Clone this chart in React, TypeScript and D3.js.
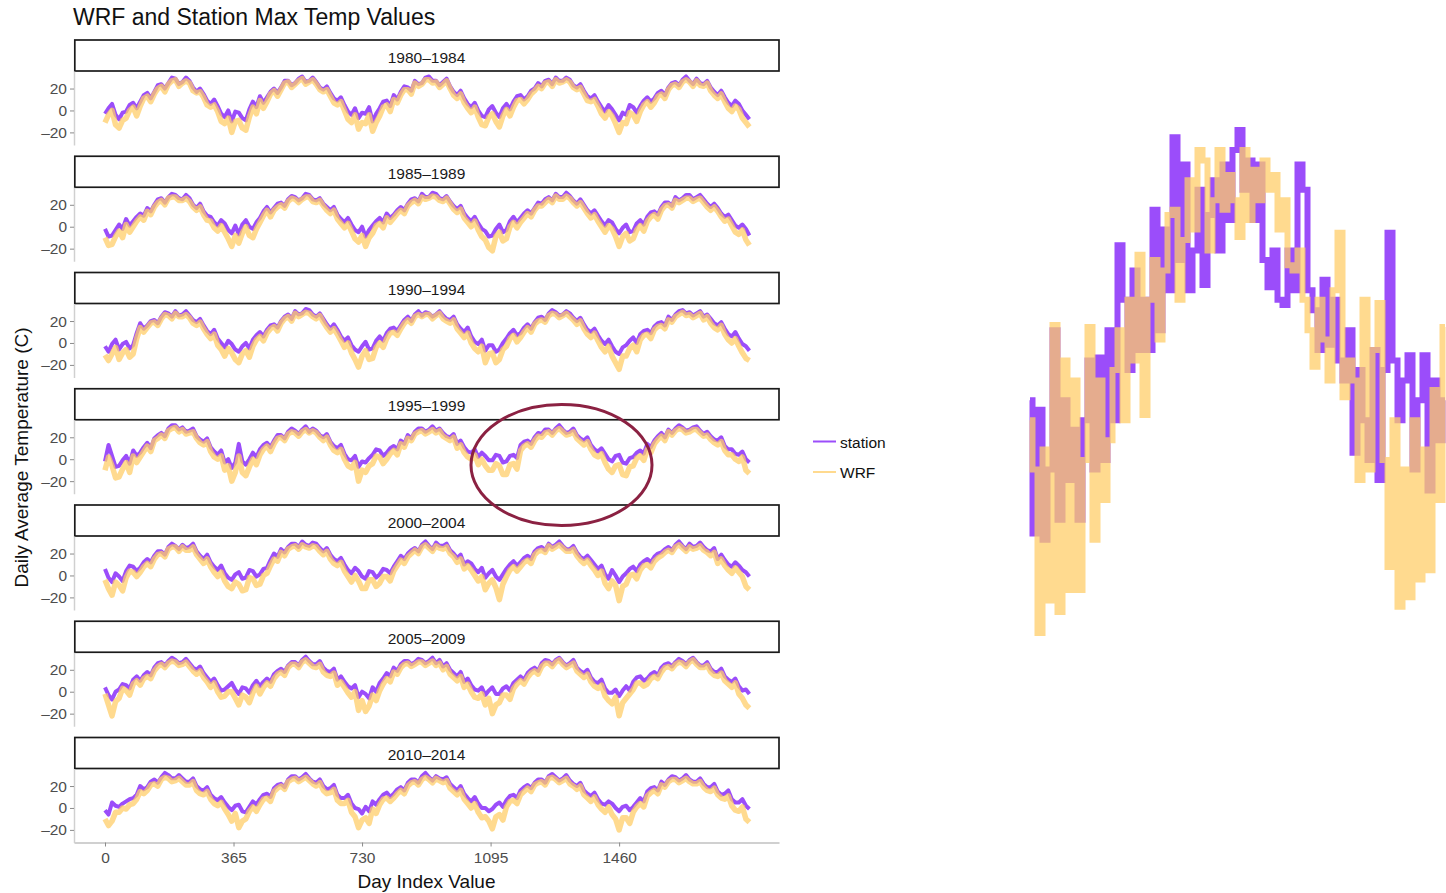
import React, { useEffect, useRef } from 'react';
import * as d3 from 'd3';

// one reading every STEP days (one row per year)
const STEP = 10;

const periods = ['1980–1984', '1985–1989', '1990–1994', '1995–1999', '2000–2004', '2005–2009', '2010–2014'];

const station1980 = [
  -3, 2, 6, -4, -8, -2, -1, 5, 7, 2, 8, 14, 16, 11, 17, 23, 24, 20, 25, 30, 29, 24, 26, 30, 27, 21, 17, 20, 15, 9, 6, 10, 4, -3, -6, 0, -10, -1,
  -2, -7, -9, 1, 8, 3, 13, 7, 12, 17, 20, 16, 21, 27, 27, 23, 25, 29, 31, 26, 27, 30, 26, 21, 19, 22, 16, 11, 9, 12, 5, -1, -4, 2, -7, -2,
  -3, 3, -10, -3, 2, 8, 9, 4, 14, 10, 17, 22, 21, 18, 27, 24, 25, 30, 31, 27, 27, 23, 26, 29, 22, 17, 14, 18, 11, 6, 3, 7, 0, -5, -6, 1,
  4, -2, -6, 2, 6, 1, 8, 13, 14, 10, 13, 18, 20, 25, 22, 27, 28, 24, 30, 27, 27, 30, 28, 23, 21, 24, 18, 13, 11, 14, 8, 3, -1, 5, 1, -4, -9, -2,
  -4, 5, 3, -2, 4, 9, 12, 8, 11, 16, 18, 14, 21, 25, 26, 23, 28, 31, 27, 24, 29, 25, 24, 27, 21, 17, 14, 18, 12, 7, 4, 9, 6, 0, -4, -8,
];
const wrf1980 = [
  -11, -4, 0, -13, -16, -9, -7, 0, 3, -5, 4, 11, 13, 8, 15, 20, 22, 17, 24, 27, 28, 22, 25, 27, 25, 18, 16, 17, 12, 5, 3, 5, -1, -10, -12, -7, -20, -10,
  -9, -16, -18, -6, 3, -3, 9, 2, 8, 15, 18, 13, 19, 25, 26, 21, 24, 27, 29, 24, 26, 28, 24, 19, 17, 19, 13, 7, 5, 8, 0, -8, -11, -4, -17, -11,
  -12, -4, -19, -11, -5, 3, 5, -1, 10, 7, 14, 19, 19, 15, 25, 22, 24, 28, 28, 25, 26, 21, 24, 27, 20, 14, 11, 15, 7, 2, -2, 3, -6, -13, -14, -6,
  -3, -10, -15, -5, 1, -5, 3, 9, 10, 6, 10, 15, 18, 22, 20, 25, 26, 22, 28, 25, 26, 28, 26, 21, 19, 21, 15, 9, 8, 10, 4, -3, -7, -1, -5, -12, -20, -11,
  -12, -2, -4, -10, -1, 5, 8, 3, 7, 13, 15, 11, 19, 23, 24, 21, 26, 28, 26, 22, 27, 23, 22, 25, 18, 14, 11, 15, 8, 2, -1, 4, 1, -7, -11, -15,
];

const station1985 = [
  -2, -9, -8, -3, 2, -2, 7, 1, 5, 9, 12, 10, 17, 14, 20, 25, 26, 22, 27, 30, 29, 26, 25, 29, 26, 20, 17, 21, 14, 10, 9, 4, 1, 6, 3, -3, -6, 1,
  -7, 2, 6, 0, -2, 4, 8, 14, 18, 13, 17, 21, 22, 19, 25, 28, 27, 24, 26, 30, 29, 25, 24, 26, 21, 18, 15, 18, 11, 7, 4, 8, 2, -3, -5, 0,
  -9, -3, 1, 5, 8, 4, 12, 8, 11, 15, 18, 15, 21, 25, 26, 23, 30, 27, 27, 31, 30, 26, 25, 28, 23, 19, 16, 19, 12, 8, 5, 9, 3, -2, -4, -9,
  -8, -2, 2, -5, -3, 5, 9, 4, 8, 12, 15, 12, 17, 22, 21, 25, 27, 24, 30, 27, 27, 31, 28, 24, 21, 25, 20, 15, 12, 15, 10, 5, 1, 6, 4, -2, -6, -1,
  2, -5, -4, 3, 6, 2, 9, 13, 14, 11, 18, 22, 22, 19, 27, 24, 26, 29, 29, 25, 27, 29, 25, 21, 18, 21, 17, 12, 9, 11, 6, 1, -1, 2, -2, -8,
];
const wrf1985 = [
  -10, -17, -16, -9, -4, -10, 2, -5, 0, 5, 9, 6, 14, 11, 18, 22, 24, 20, 26, 27, 27, 24, 24, 26, 23, 18, 15, 18, 11, 6, 5, -1, -4, 1, -5, -11, -18, -8,
  -15, -6, 0, -8, -10, -2, 4, 10, 15, 9, 15, 18, 20, 17, 23, 26, 25, 22, 25, 27, 27, 23, 22, 24, 19, 15, 12, 15, 7, 3, -1, 3, -4, -11, -14, -8,
  -18, -10, -6, 1, 3, -1, 8, 4, 8, 12, 15, 12, 19, 22, 24, 21, 27, 25, 26, 28, 27, 24, 23, 26, 21, 16, 13, 16, 8, 4, 0, 5, -3, -9, -12, -19,
  -22, -9, -5, -13, -11, 0, 4, -1, 4, 8, 12, 9, 15, 19, 19, 22, 25, 22, 28, 25, 25, 28, 26, 22, 19, 22, 17, 12, 8, 11, 5, 0, -5, 1, -2, -9, -18, -9,
  -6, -13, -11, -3, 1, -4, 5, 9, 11, 7, 15, 19, 20, 17, 24, 22, 24, 26, 26, 23, 25, 26, 22, 18, 15, 18, 14, 9, 5, 7, 1, -5, -7, -3, -12, -17,
];

const station1990 = [
  -3, -8, -1, 3, -6, -1, 1, -5, -2, 9, 18, 13, 16, 20, 21, 18, 24, 28, 27, 24, 29, 25, 26, 29, 25, 21, 19, 22, 16, 11, 8, 12, 4, 0, -4, 2, -1, -6,
  -8, -3, 0, -5, 3, 7, 10, 6, 12, 16, 17, 14, 20, 24, 26, 22, 29, 26, 27, 31, 30, 26, 24, 27, 22, 17, 13, 17, 12, 6, 2, 5, -2, -6, -8, -3,
  1, -6, -5, 2, 6, 2, 9, 13, 14, 11, 16, 21, 24, 20, 26, 29, 25, 28, 27, 24, 26, 29, 25, 22, 21, 24, 17, 13, 10, 14, 6, 1, -1, 3, -7, -2,
  -2, -8, -6, 0, 4, 9, 12, 7, 9, 14, 17, 13, 19, 23, 24, 21, 27, 30, 28, 25, 26, 29, 27, 23, 20, 23, 17, 12, 10, 13, 7, 2, -1, 3, -3, -8, -10, -4,
  -2, 2, 5, 0, 8, 11, 12, 9, 15, 18, 19, 16, 24, 21, 26, 29, 30, 27, 28, 25, 27, 29, 24, 26, 22, 18, 16, 19, 13, 8, 6, 10, 4, -1, -3, -7,
];
const wrf1990 = [
  -11, -16, -10, -4, -15, -9, -6, -13, -10, 4, 14, 10, 14, 18, 19, 16, 22, 26, 25, 22, 27, 24, 24, 26, 23, 18, 16, 19, 13, 8, 4, 8, -2, -6, -12, -5, -9, -15,
  -18, -10, -7, -13, -3, 3, 6, 2, 9, 13, 15, 11, 18, 22, 24, 20, 27, 24, 26, 28, 27, 24, 22, 25, 19, 14, 10, 13, 8, 2, -4, 0, -9, -15, -22, -12,
  -7, -15, -14, -4, 0, -4, 4, 9, 10, 7, 13, 18, 21, 18, 24, 26, 24, 26, 26, 22, 25, 27, 22, 20, 18, 21, 13, 9, 5, 9, 0, -5, -8, -3, -18, -10,
  -9, -18, -15, -6, -3, 4, 7, 1, 5, 10, 14, 10, 17, 20, 21, 19, 25, 27, 26, 23, 25, 27, 24, 21, 17, 20, 13, 8, 5, 9, 2, -4, -8, -3, -12, -18, -24, -12,
  -12, -5, -2, -8, 3, 7, 8, 4, 12, 15, 16, 13, 21, 19, 24, 26, 28, 25, 26, 23, 25, 27, 21, 24, 18, 14, 12, 16, 8, 3, 0, 4, -3, -9, -14, -16,
];

const station1995 = [
  -2, 13, 3, -7, -6, -1, 3, -4, 8, 3, 6, 11, 15, 10, 19, 22, 24, 21, 28, 31, 31, 27, 29, 25, 26, 28, 21, 18, 16, 19, 11, 7, 4, 8, -3, 0, -8, -3,
  14, -2, -5, 0, 6, 2, 9, 13, 15, 11, 17, 22, 22, 19, 25, 28, 26, 23, 27, 30, 25, 28, 26, 22, 20, 23, 16, 12, 10, 13, 5, 0, -1, 3, -7, -2,
  -3, 1, 4, 9, 8, 3, 6, 10, 12, 9, 17, 14, 22, 19, 25, 28, 28, 25, 27, 30, 26, 28, 24, 21, 20, 23, 14, 17, 11, 7, 6, 9, 2, 6, 3, -1,
  -1, 4, 3, -3, -2, 3, 4, 1, 13, 16, 17, 14, 20, 24, 23, 27, 27, 24, 28, 31, 27, 24, 25, 28, 22, 19, 17, 20, 13, 9, 7, 10, 5, 0, -2, 3, 4, -3,
  -4, 1, 2, 6, 8, 5, 14, 11, 17, 21, 24, 20, 27, 24, 28, 31, 29, 26, 27, 29, 30, 26, 23, 25, 21, 18, 17, 20, 12, 9, 9, 5, 4, 7, 0, -3,
];
const wrf1995 = [
  -10, 2, -6, -17, -16, -9, -3, -12, 3, -3, 2, 7, 12, 7, 17, 19, 22, 19, 26, 28, 29, 25, 27, 23, 24, 25, 19, 15, 13, 16, 7, 2, 0, 3, -10, -6, -20, -12,
  3, -12, -15, -7, 0, -5, 4, 9, 12, 7, 14, 19, 20, 17, 23, 25, 24, 21, 25, 27, 24, 26, 24, 20, 17, 20, 13, 8, 6, 9, 0, -6, -8, -3, -20, -10,
  -12, -6, -4, 3, 2, -4, 0, 5, 8, 4, 14, 11, 19, 17, 23, 25, 26, 23, 25, 27, 24, 26, 21, 19, 17, 20, 10, 13, 6, 2, 0, 4, -5, 0, -6, -10,
  -10, -4, -6, -14, -14, -5, -4, -9, 8, 12, 14, 11, 17, 21, 20, 24, 25, 22, 26, 28, 25, 22, 23, 25, 19, 16, 13, 16, 9, 4, 2, 5, -3, -9, -12, -6, -5, -14,
  -15, -7, -6, 1, 3, -1, 9, 6, 14, 18, 21, 17, 25, 22, 26, 28, 27, 24, 25, 27, 27, 24, 21, 22, 18, 15, 13, 16, 8, 4, 4, 0, -2, 2, -10, -13,
];

const station2000 = [
  6, -2, -6, 2, -1, -5, 4, 9, 8, 4, 7, 12, 15, 12, 18, 22, 22, 19, 26, 29, 27, 24, 28, 25, 26, 29, 22, 18, 15, 19, 12, 8, 5, 9, 2, -2, -4, 1,
  3, -3, -2, 5, 4, -1, 1, 6, 7, 14, 20, 17, 24, 21, 26, 29, 29, 26, 31, 28, 27, 30, 29, 25, 22, 25, 19, 15, 13, 16, 10, 5, 2, 7, 4, -1,
  -3, 4, 3, -2, 1, 6, 5, 2, 8, 13, 18, 15, 20, 23, 25, 22, 28, 31, 27, 24, 30, 27, 27, 29, 23, 20, 16, 19, 10, 13, 11, 6, 3, 7, -2, 2,
  5, -1, -4, 1, 6, 10, 13, 9, 12, 16, 18, 15, 22, 25, 26, 23, 29, 26, 28, 31, 27, 24, 24, 27, 21, 17, 15, 18, 14, 10, 6, 9, 1, -3, 5, 0, -6, -1,
  2, 6, 8, 4, 10, 13, 15, 12, 17, 20, 21, 24, 26, 23, 28, 31, 27, 24, 29, 26, 27, 30, 26, 23, 22, 25, 15, 19, 14, 10, 8, 12, 9, 5, 3, -1,
];
const wrf2000 = [
  -4, -12, -18, -6, -9, -14, -2, 4, 3, -1, 3, 8, 11, 8, 15, 19, 20, 17, 24, 26, 26, 22, 26, 23, 23, 26, 19, 15, 11, 15, 8, 3, -1, 3, -5, -10, -12, -6,
  -8, -14, -13, -2, -3, -9, -8, 0, 2, 9, 15, 13, 21, 18, 24, 26, 27, 24, 28, 26, 25, 27, 26, 22, 19, 22, 15, 11, 9, 12, 4, -1, -6, 0, -5, -12,
  -12, -4, -4, -10, -7, -1, -1, -5, 4, 9, 14, 11, 17, 20, 23, 20, 26, 28, 25, 22, 27, 25, 24, 26, 20, 17, 12, 15, 6, 9, 5, 0, -5, -1, -13, -7,
  -4, -11, -22, -8, -1, 5, 8, 4, 8, 12, 14, 11, 19, 22, 23, 21, 27, 24, 26, 28, 25, 22, 22, 24, 18, 14, 11, 14, 9, 5, 0, 4, -7, -12, -5, -9, -23, -10,
  -8, 0, 1, -3, 5, 9, 10, 7, 13, 16, 18, 21, 23, 21, 26, 28, 25, 22, 26, 24, 25, 27, 23, 21, 18, 21, 11, 15, 9, 5, 2, 7, 3, -1, -10, -13,
];

const station2005 = [
  4, -3, -7, 0, 2, 7, 6, 3, 11, 14, 10, 15, 18, 15, 22, 26, 27, 24, 28, 31, 29, 26, 27, 30, 26, 22, 20, 23, 17, 13, 9, 12, 6, 1, 2, 5, 8, 2,
  -2, 4, 3, -1, 6, 10, 5, 9, 12, 9, 16, 19, 21, 18, 24, 27, 27, 24, 29, 32, 28, 25, 25, 28, 22, 19, 18, 21, 11, 14, 9, 5, 3, 6, -5, 0,
  -2, -6, 4, 0, 8, 12, 17, 14, 22, 19, 25, 28, 28, 25, 27, 30, 29, 26, 28, 31, 26, 29, 23, 26, 20, 17, 14, 18, 9, 12, 6, 2, 1, 4, -3, 1,
  4, -2, -2, 3, 5, 1, 8, 11, 14, 11, 17, 20, 22, 19, 26, 29, 28, 25, 29, 31, 27, 24, 26, 29, 22, 19, 17, 20, 13, 9, 8, 11, 3, -1, -1, 2, -4, 1,
  5, 1, 9, 13, 14, 10, 12, 16, 18, 15, 22, 25, 26, 23, 27, 30, 28, 25, 29, 31, 27, 24, 24, 27, 21, 18, 18, 21, 14, 11, 9, 12, 5, 1, 2, -2,
];
const wrf2005 = [
  -2, -12, -22, -9, -6, 3, 1, -3, 7, 10, 6, 12, 14, 12, 19, 23, 25, 22, 26, 28, 27, 24, 25, 27, 23, 19, 16, 19, 13, 9, 4, 8, 0, -5, -4, 0, 0, -6,
  -12, -3, -5, -10, -1, 5, -2, 4, 8, 5, 12, 16, 18, 15, 22, 25, 25, 22, 27, 29, 26, 23, 22, 25, 18, 15, 14, 17, 6, 9, 4, -1, -5, 0, -17, -8,
  -18, -13, -3, -8, 1, 7, 12, 9, 18, 16, 22, 25, 26, 23, 25, 27, 27, 24, 26, 28, 24, 26, 20, 23, 16, 13, 10, 14, 4, 7, 0, -5, -6, -2, -12, -6,
  -20, -12, -10, -3, -3, -7, 3, 7, 10, 7, 13, 17, 19, 16, 23, 26, 26, 23, 27, 29, 25, 22, 24, 26, 19, 16, 13, 16, 9, 5, 3, 6, -4, -8, -11, -5, -22, -10,
  -6, -2, 2, 8, 8, 5, 7, 12, 14, 12, 18, 22, 23, 21, 25, 27, 26, 23, 27, 29, 25, 22, 22, 24, 18, 15, 14, 17, 10, 7, 4, 8, -2, -6, -12, -15,
];

const station2010 = [
  -2, -6, 5, 2, 1, 4, 6, 8, 9, 12, 20, 17, 19, 24, 26, 23, 28, 32, 30, 27, 27, 30, 27, 24, 24, 27, 20, 17, 16, 19, 12, 9, 7, 10, 5, 1, -2, 2,
  3, -3, -4, 1, 6, 3, 8, 12, 13, 10, 18, 21, 22, 19, 26, 29, 29, 26, 28, 31, 27, 24, 23, 26, 20, 17, 18, 21, 12, 9, 9, 12, 4, 0, -1, -5,
  1, -3, 6, 3, 8, 12, 14, 10, 13, 17, 19, 16, 23, 26, 26, 23, 29, 32, 28, 25, 29, 27, 26, 28, 22, 19, 16, 20, 13, 9, 6, 10, 4, 0, 0, -3,
  -1, 3, 5, 1, 7, 11, 12, 9, 16, 19, 21, 18, 23, 26, 26, 23, 29, 31, 28, 25, 27, 30, 25, 22, 20, 23, 16, 13, 11, 14, 8, 4, 3, 6, 4, 0, -3, 1,
  2, -2, 1, 5, 9, 6, 15, 18, 19, 16, 24, 21, 26, 29, 28, 25, 27, 30, 26, 24, 24, 27, 22, 19, 19, 22, 15, 12, 13, 16, 8, 5, 5, 8, 2, -1,
];
const wrf2010 = [
  -10, -16, -12, -4, -4, 0, -1, 3, 4, 8, 15, 13, 16, 21, 22, 20, 26, 28, 27, 24, 25, 27, 24, 21, 21, 24, 16, 13, 12, 15, 8, 4, 2, 5, -1, -6, -12, -5,
  -18, -12, -10, -3, 1, -3, 3, 8, 9, 6, 15, 18, 20, 17, 24, 26, 27, 24, 26, 28, 25, 22, 20, 23, 16, 13, 14, 17, 7, 4, 4, 7, -4, -8, -18, -11,
  -9, -14, -1, -5, 3, 8, 9, 6, 9, 13, 16, 13, 20, 23, 24, 21, 26, 28, 26, 23, 27, 25, 23, 25, 18, 15, 12, 16, 8, 4, 0, 4, -4, -9, -8, -12,
  -19, -8, -6, -11, 1, 6, 7, 4, 12, 15, 18, 15, 21, 23, 24, 21, 27, 28, 26, 23, 25, 27, 22, 20, 17, 20, 12, 9, 6, 10, 3, -1, -4, 1, -6, -10, -20, -9,
  -9, -14, -4, 1, 4, 1, 11, 14, 16, 13, 21, 19, 24, 26, 26, 23, 25, 27, 24, 22, 22, 24, 19, 16, 15, 18, 12, 9, 8, 11, 2, -2, -3, 1, -10, -13,
];

// zoomed piece of the circled year (1995-1999 panel), one value every few days
const insetStation = [
  2.2, -10.5, 1.3, -11.1, -4.4, 8.9, -9.2, 2.2, -5.4, -0.6, -9.2, 0.3, 6.0, -4.4, 6.3, -3.5,
  8.9, 0.3, 17.0, 11.8, 5.1, 14.6, 7.0, 11.8, 7.0, 20.4, 8.9, 18.5, 12.7, 27.3, 15.6, 24.7,
  12.7, 16.5, 22.3, 13.2, 19.9, 23.2, 16.5, 24.7, 19.4, 26.1, 28.0, 22.3, 25.1, 19.4, 24.7, 15.6,
  13.0, 16.5, 11.8, 11.3, 16.5, 12.7, 24.7, 22.3, 12.7, 10.8, 7.0, 13.7, 7.5, 11.8, 6.0, 4.1,
  8.9, -2.8, 5.1, 0.3, -3.5, 7.0, -5.4, 5.1, 18.2, 6.0, 0.3, 4.1, 6.5, -4.4, 2.2, 6.5,
  -6.4, 4.1, -1.6, 2.2,
];
const insetWRF = [
  0.3, -4.4, -20, -2.5, -16.9, 9.4, -18, 6.0, -15.9, 4.1, -15.9, -3.5, 9.2, -11.1, 4.1, -7.3,
  -1.6, 5.1, 8.9, 0.3, 11.8, 6.0, 16.1, 0.8, 11.8, 15.6, 8.0, 14.6, 19.9, 20.4, 11.8, 17.5,
  23.2, 18.5, 26.1, 25.1, 16.5, 21.3, 26.1, 20.4, 23.7, 21.3, 17.8, 26.1, 19.4, 24.2, 21.3, 25.1,
  22.3, 23.7, 18.5, 21.3, 15.1, 14.6, 16.5, 11.8, 8.9, 5.4, 11.8, 8.0, 4.1, 12.7, 18.2, 2.5,
  6.0, 4.1, -5.4, 11.8, -4.4, 7.0, 11.5, -3.5, -13.7, 0.3, -17.5, -4.4, -16.6, 0.3, -14.9, -2.5,
  -14.0, 3.2, -7.3, 9.2,
];

const yTicks = [-20, 0, 20];
const xTicks = [0, 365, 730, 1095, 1460];

const stationSeries = [station1980, station1985, station1990, station1995, station2000, station2005, station2010];
const wrfSeries = [wrf1980, wrf1985, wrf1990, wrf1995, wrf2000, wrf2005, wrf2010];

const STATION_COL = '#9b4dfa';
const WRF_COL = '#ffcd68';
const WRF_OPACITY = 0.74;
const FONT = '"Liberation Sans", Arial, Helvetica, sans-serif';

const fmt = (d: number) => (d < 0 ? '–' + Math.abs(d) : String(d));

const App = () => {
  const ref = useRef<SVGSVGElement>(null);

  useEffect(() => {
    const svg = d3.select(ref.current);
    svg.selectAll('*').remove();

    const left = 74, right = 779;
    const stripTop0 = 40, pitch = 116.25, stripH = 31, plotH = 74;

    const x = d3.scaleLinear().domain([-88, 1914]).range([left, right]);

    svg.append('text')
      .attr('x', 73).attr('y', 25)
      .attr('font-size', 23).attr('fill', '#111')
      .text('WRF and Station Max Temp Values');

    periods.forEach((label, k) => {
      const top = stripTop0 + pitch * k;
      const py = top + stripH;
      const y = d3.scaleLinear().domain([-31.5, 36]).range([py + plotH, py]);

      // strip
      svg.append('rect')
        .attr('x', left + 0.8).attr('y', top)
        .attr('width', right - left - 0.8).attr('height', stripH)
        .attr('fill', '#fff').attr('stroke', '#1a1a1a').attr('stroke-width', 1.7);
      svg.append('text')
        .attr('x', (left + right) / 2).attr('y', top + 22.5)
        .attr('text-anchor', 'middle').attr('font-size', 15.5).attr('fill', '#1a1a1a')
        .text(label);

      // y axis
      const ga = svg.append('g')
        .attr('transform', `translate(${left},0)`)
        .call(d3.axisLeft(y).tickValues(yTicks).tickSize(4).tickSizeOuter(0).tickPadding(3).tickFormat(d => fmt(+d)));
      ga.select('.domain').attr('stroke', '#d0d0d0').attr('stroke-width', 1.5);
      ga.selectAll('.tick line').attr('stroke', '#8a8a8a');
      ga.selectAll('.tick text').attr('fill', '#4d4d4d').attr('font-size', 15.5).attr('font-family', FONT);

      const line = d3.line<number>()
        .x((_, i) => x(i * STEP))
        .y(d => y(d));

      svg.append('path')
        .datum(stationSeries[k])
        .attr('fill', 'none')
        .attr('stroke', STATION_COL)
        .attr('stroke-width', 4)
        .attr('stroke-linejoin', 'round')
        .attr('d', line);

      svg.append('path')
        .datum(wrfSeries[k])
        .attr('fill', 'none')
        .attr('stroke', WRF_COL)
        .attr('stroke-opacity', WRF_OPACITY)
        .attr('stroke-width', 5.5)
        .attr('stroke-linejoin', 'round')
        .attr('d', line);
    });

    // x axis under the last panel
    const axisY = stripTop0 + pitch * 6 + stripH + plotH;
    const gx = svg.append('g')
      .attr('transform', `translate(0,${axisY})`)
      .call(d3.axisBottom(x).tickValues(xTicks).tickSize(4).tickSizeOuter(0).tickPadding(5).tickFormat(d => String(d)));
    gx.select('.domain').attr('stroke', '#d0d0d0').attr('stroke-width', 2);
    gx.selectAll('.tick line').attr('stroke', '#8a8a8a');
    gx.selectAll('.tick text').attr('fill', '#4d4d4d').attr('font-size', 15.5).attr('font-family', FONT);

    svg.append('text')
      .attr('x', (left + right) / 2).attr('y', 888)
      .attr('text-anchor', 'middle').attr('font-size', 19).attr('fill', '#111')
      .text('Day Index Value');

    svg.append('text')
      .attr('transform', 'translate(27.5,457.5) rotate(-90)')
      .attr('text-anchor', 'middle').attr('font-size', 19).attr('fill', '#111')
      .text('Daily Average Temperature (C)');

    // legend
    const legend = [
      { name: 'station', col: STATION_COL, op: 1, y: 441.5 },
      { name: 'WRF', col: WRF_COL, op: WRF_OPACITY, y: 472 },
    ];
    legend.forEach(l => {
      svg.append('line')
        .attr('x1', 813).attr('x2', 836).attr('y1', l.y).attr('y2', l.y)
        .attr('stroke', l.col).attr('stroke-opacity', l.op).attr('stroke-width', 2);
      svg.append('text')
        .attr('x', 840).attr('y', l.y + 6)
        .attr('font-size', 15.5).attr('fill', '#111')
        .text(l.name);
    });

    // circle around the zoomed year
    svg.append('ellipse')
      .attr('cx', 561.5).attr('cy', 465).attr('rx', 90.5).attr('ry', 60.5)
      .attr('fill', 'none').attr('stroke', '#8b2142').attr('stroke-width', 3);

    // zoomed view
    const xi = d3.scaleLinear().domain([0, insetStation.length - 1]).range([1030, 1445]);
    const yi = d3.scaleLinear().domain([-20, 28]).range([633, 130]);
    const insetLine = d3.line<number>()
      .x((_, i) => xi(i))
      .y(d => yi(d))
      .curve(d3.curveStep);

    svg.append('path')
      .datum(insetStation)
      .attr('fill', 'none')
      .attr('stroke', STATION_COL)
      .attr('stroke-width', 6)
      .attr('d', insetLine);

    svg.append('path')
      .datum(insetWRF)
      .attr('fill', 'none')
      .attr('stroke', WRF_COL)
      .attr('stroke-opacity', WRF_OPACITY)
      .attr('stroke-width', 6)
      .attr('d', insetLine);
  }, []);

  return (
    <svg
      ref={ref}
      width={1446}
      height={893}
      style={{ position: 'absolute', left: 0, top: 0, fontFamily: FONT, background: '#fff' }}
    />
  );
};

export default App;
